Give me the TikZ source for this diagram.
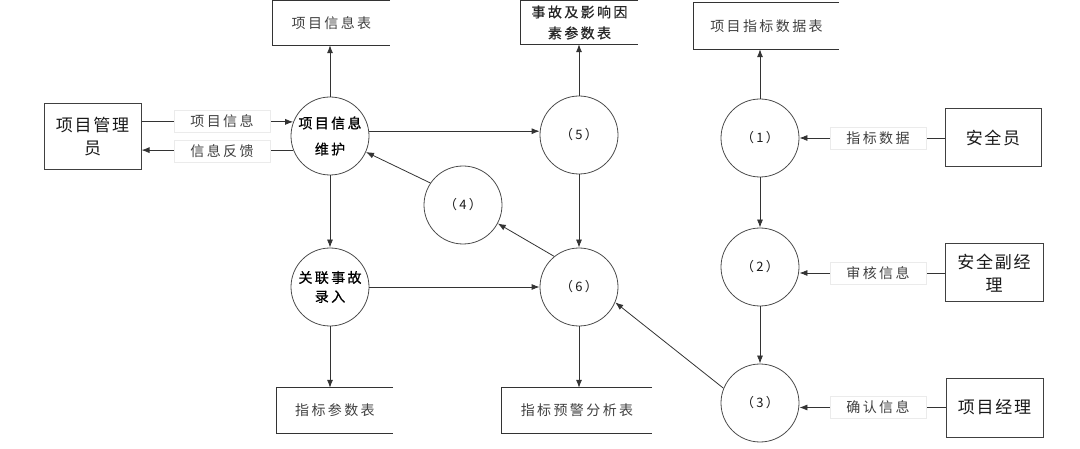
\documentclass[tikz,border=0pt]{standalone}
\usepackage{fontspec}
\setmainfont{Noto Sans CJK SC}
\newfontfamily\cjk[LetterSpace=17]{Noto Sans CJK SC}
\newfontfamily\cjkb[LetterSpace=17,FakeBold=0.7]{Noto Sans CJK SC}
\newfontfamily\cjkbig[LetterSpace=10]{Noto Sans CJK SC}
\usetikzlibrary{arrows.meta,calc}
\begin{document}
\begin{tikzpicture}[x=1pt,y=-1pt,
  line/.style={draw=black!80, line width=0.8pt},
  arr/.style={line, -{Latex[length=8pt,width=6pt]}},
  proc/.style={circle, draw=black!70, line width=0.8pt, minimum size=78pt, inner sep=0pt, align=center, font=\cjk\fontsize{13}{19}\selectfont, text=black!90},
  procb/.style={proc, font=\cjkb\fontsize{14}{19}\selectfont, text=black},
  ent/.style={rectangle, draw=black!75, line width=1pt, inner sep=0pt, align=center, font=\cjkbig\fontsize{17}{23}\selectfont, text=black!90},
  store/.style={rectangle, inner sep=0pt, align=center, font=\cjk\fontsize{14}{21}\selectfont, text=black!75},
  storeb/.style={store, font=\cjkb\fontsize{14}{21}\selectfont, text=black!85},
  storeline/.style={draw=black!80, line width=1pt},
  lbl/.style={fill=white, draw=black!8, line width=0.4pt, minimum width=96pt, minimum height=22pt, inner sep=0pt, font=\cjk\fontsize{14}{16}\selectfont, text=black!75},
]
\useasboundingbox (0,0) rectangle (1080,449);

% data stores
\node[store, minimum width=117pt, minimum height=44pt] (s1) at (331.5,23) {项目信息表};
\node[storeb, minimum width=117pt, minimum height=43pt] (s2) at (579.5,22.5) {事故及影响因\\素参\,数表};
\node[store, minimum width=145pt, minimum height=46pt] (s3) at (766.5,26) {项目指标数据表};
\node[store, minimum width=116pt, minimum height=45pt] (s4) at (335,410.5) {指标参数表};
\node[store, minimum width=150pt, minimum height=45pt] (s5) at (577,410.5) {指标预警分析表};
\foreach \s in {s1,s2,s3,s4,s5}
  \draw[storeline] (\s.north east) -- (\s.north west) -- (\s.south west) -- (\s.south east);

% external entities
\node[ent, minimum width=97pt, minimum height=66pt] (e1) at (92.5,137) {项目管理\\员};
\node[ent, minimum width=96pt, minimum height=58pt] (e2) at (993,138) {安全员};
\node[ent, minimum width=98pt, minimum height=58pt] (e3) at (994,273) {安全副经\\理};
\node[ent, minimum width=97pt, minimum height=59pt] (e4) at (994.5,407.5) {项目经理};

% processes
\node[procb] (pm) at (330,136) {项目信息\\[7pt]维护};
\node[proc] (p5) at (579,135) {（5）};
\node[proc] (p1) at (760,138) {（1）};
\node[proc] (p2) at (760,267) {（2）};
\node[proc] (p3) at (760,403) {（3）};
\node[proc] (p4) at (463,205) {（4）};
\node[procb] (pr) at (330,287) {关联\,事故\\录入};
\node[proc] (p6) at (579,287) {（6）};

% flows
\draw[arr] (e1.east |- pm.159) -- (pm.159);
\draw[arr] (pm.201) -- (e1.east |- pm.201);
\draw[arr] (pm.north) -- (pm.north |- s1.south);
\draw[arr] (pm.7) -- (pm.7 -| p5.west);
\draw[arr] (p5.north) -- (p5.north |- s2.south);
\draw[arr] (p5.south) -- (p6.north);
\draw[arr] (pm.south) -- (pr.north);
\draw[arr] (pr.south) -- (pr.south |- s4.north);
\draw[arr] (pr.east) -- (pr.east -| p6.west);
\draw[arr] (p6.south) -- (p6.south |- s5.north);
\draw[arr] (p6.129) -- (p4.-28);
\draw[arr] (p4.146) -- (pm.-24);
\draw[arr] (p3.158) -- (p6.-23);
\draw[arr] (p1.north) -- (p1.north |- s3.south);
\draw[arr] (p1.south) -- (p2.north);
\draw[arr] (p2.south) -- (p3.north);
\draw[arr] (e2.west) -- (e2.west -| p1.east);
\draw[arr] (e3.west) -- (e3.west -| p2.east);
\draw[arr] (e4.west) -- (e4.west -| p3.east);

% flow labels
\node[lbl] (l1) at (222,121) {项目信息};
\node[lbl] (l2) at (222,151) {信息反馈};
\node[lbl] (l3) at (878,138) {指标数据};
\node[lbl] (l4) at (878,273) {审核信息};
\node[lbl] (l5) at (878,407.5) {确认信息};
\end{tikzpicture}
\end{document}
